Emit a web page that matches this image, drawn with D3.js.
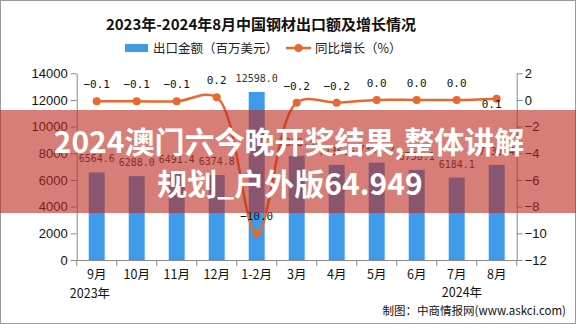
<!DOCTYPE html>
<html>
<head>
<meta charset="utf-8">
<script src="https://cdn.jsdelivr.net/npm/d3@7"></script>
<style>
  body { margin: 0; background: #fff; }
  svg { display: block; }
</style>
</head>
<body>
<div id="chart"></div>
<script>
const categories = ['9月', '10月', '11月', '12月', '1-2月', '3月', '4月', '5月', '6月', '7月', '8月'];
const exportValues = [6564.6, 6288.0, 6491.4, 6374.8, 12598.0, 7808.3, 7135.6, 7305.2, 6758.1, 6184.1, 7133.4];
const growthValues = [-0.1, -0.1, -0.1, 0.2, -10.0, -0.2, -0.2, 0.0, 0.0, 0.0, 0.1];
const leftTicks = [0, 2000, 4000, 6000, 8000, 10000, 12000, 14000];
const rightTicks = [2, 0, -2, -4, -6, -8, -10, -12];

const width = 576;
const height = 324;
const margin = { top: 73.3, right: 59.3, bottom: 64, left: 76.7 };

const svg = d3.select('#chart')
  .append('svg')
  .attr('width', width)
  .attr('height', height);

svg.append('rect')
  .attr('x', 0.5).attr('y', 0.5)
  .attr('width', width - 1).attr('height', height - 1)
  .attr('fill', '#fff')
  .attr('stroke', '#9a9a9a');

const plotW = width - margin.left - margin.right;
const plotH = height - margin.top - margin.bottom;
const y0 = margin.top + plotH;

const x = d3.scaleBand()
  .domain(categories)
  .range([margin.left, margin.left + plotW])
  .padding(0);

const yL = d3.scaleLinear().domain([0, 14000]).range([y0, margin.top]);
const yR = d3.scaleLinear().domain([-12, 2]).range([y0, margin.top]);

const axisColor = '#8a8a8a';
const tickFont = 'Liberation Sans, Arial, sans-serif';

// title
svg.append('text')
  .attr('x', 261).attr('y', 30)
  .attr('text-anchor', 'middle')
  .style('font-family', 'Noto Sans CJK SC')
  .style('font-weight', 'bold')
  .style('font-size', '15px')
  .style('fill', '#111')
  .text('2023年-2024年8月中国钢材出口额及增长情况');

// legend
svg.append('rect')
  .attr('x', 125).attr('y', 44)
  .attr('width', 23).attr('height', 8)
  .attr('fill', '#3d9be9');
svg.append('text')
  .attr('x', 153).attr('y', 53)
  .style('font-family', 'Noto Sans CJK SC')
  .style('font-size', '12.5px')
  .style('fill', '#222')
  .text('出口金额（百万美元）');
svg.append('line')
  .attr('x1', 286).attr('x2', 311).attr('y1', 48).attr('y2', 48)
  .attr('stroke', '#e8692d').attr('stroke-width', 2.5);
svg.append('circle')
  .attr('cx', 298.5).attr('cy', 48).attr('r', 4)
  .attr('fill', '#e8692d');
svg.append('text')
  .attr('x', 315).attr('y', 53)
  .style('font-family', 'Noto Sans CJK SC')
  .style('font-size', '12.5px')
  .style('fill', '#222')
  .text('同比增长（%）');

// bars
const barW = x.bandwidth() * 0.4;
svg.selectAll('.bar')
  .data(exportValues)
  .enter()
  .append('rect')
  .attr('class', 'bar')
  .attr('x', (d, i) => x(categories[i]) + (x.bandwidth() - barW) / 2)
  .attr('y', (d) => yL(d))
  .attr('width', barW)
  .attr('height', (d) => y0 - yL(d))
  .attr('fill', '#3d9be9');

svg.selectAll('.bar-label')
  .data(exportValues)
  .enter()
  .append('text')
  .attr('class', 'bar-label')
  .attr('x', (d, i) => x(categories[i]) + x.bandwidth() / 2)
  .attr('y', (d) => yL(d) - 10)
  .attr('text-anchor', 'middle')
  .style('font-family', 'DejaVu Sans Mono, monospace')
  .style('font-size', '10px')
  .style('fill', '#333')
  .text((d) => d.toFixed(1));

// axes
const gL = svg.append('g')
  .attr('transform', `translate(${margin.left},0)`)
  .call(d3.axisLeft(yL).tickValues(leftTicks).tickSize(6).tickSizeOuter(0).tickPadding(3)
    .tickFormat(d3.format('d')));
const gR = svg.append('g')
  .attr('transform', `translate(${margin.left + plotW},0)`)
  .call(d3.axisRight(yR).tickValues(rightTicks).tickSize(6).tickSizeOuter(0).tickPadding(2)
    .tickFormat((d) => (d < 0 ? '\u2212' + Math.abs(d) : d)));
const gX = svg.append('g')
  .attr('transform', `translate(0,${y0})`)
  .call(d3.axisBottom(x).tickSize(0).tickSizeOuter(0).tickPadding(10));

[gL, gR, gX].forEach((g) => {
  g.selectAll('path, line').attr('stroke', axisColor);
  g.selectAll('text')
    .style('font-family', tickFont)
    .style('font-size', '13px')
    .style('fill', '#111');
});
gX.selectAll('text').style('font-family', 'Noto Sans CJK SC').style('font-size', '12.5px');

// band boundary ticks on the x axis
svg.selectAll('.xtick')
  .data(categories.concat(['end']))
  .enter()
  .append('line')
  .attr('class', 'xtick')
  .attr('x1', (d, i) => margin.left + i * x.step())
  .attr('x2', (d, i) => margin.left + i * x.step())
  .attr('y1', y0)
  .attr('y2', y0 + 6)
  .attr('stroke', axisColor);

// year labels
svg.append('text')
  .attr('x', 90).attr('y', 298)
  .attr('text-anchor', 'middle')
  .style('font-family', 'Noto Sans CJK SC')
  .style('font-size', '12.5px')
  .style('fill', '#111')
  .text('2023年');
svg.append('text')
  .attr('x', 462).attr('y', 297)
  .attr('text-anchor', 'middle')
  .style('font-family', 'Noto Sans CJK SC')
  .style('font-size', '12.5px')
  .style('fill', '#111')
  .text('2024年');
svg.append('text')
  .attr('x', 566).attr('y', 315)
  .attr('text-anchor', 'end')
  .style('font-family', 'Noto Sans CJK SC')
  .style('font-size', '11.5px')
  .style('fill', '#111')
  .text('制图：中商情报网(www.askci.com)');

// growth line
const cx = (i) => x(categories[i]) + x.bandwidth() / 2;
const line = d3.line()
  .x((d, i) => cx(i))
  .y((d) => yR(d))
  .curve(d3.curveCatmullRom.alpha(0.5));

svg.append('path')
  .datum(growthValues)
  .attr('d', line)
  .attr('fill', 'none')
  .attr('stroke', '#e8692d')
  .attr('stroke-width', 2.5);

svg.selectAll('.pt')
  .data(growthValues)
  .enter()
  .append('circle')
  .attr('class', 'pt')
  .attr('cx', (d, i) => cx(i))
  .attr('cy', (d) => yR(d))
  .attr('r', 4)
  .attr('fill', '#e8692d');

svg.selectAll('.pt-label')
  .data(growthValues)
  .enter()
  .append('text')
  .attr('class', 'pt-label')
  .attr('x', (d, i) => cx(i) - (i === growthValues.length - 1 ? 5 : 0))
  .attr('y', (d, i) => yR(d) + (i === growthValues.length - 1 ? 9 : -13))
  .attr('text-anchor', 'middle')
  .style('font-family', 'DejaVu Sans Mono, monospace')
  .style('font-size', '11px')
  .style('fill', '#111')
  .text((d) => (d < 0 ? '\u2212' + Math.abs(d).toFixed(1) : d.toFixed(1)));

// overlay banner
svg.append('rect')
  .attr('x', 0).attr('y', 110)
  .attr('width', width).attr('height', 103)
  .attr('fill', 'rgba(190,40,30,0.6)');

const bannerLines = ['2024澳门六今晚开奖结果,整体讲解', '规划_户外版64.949'];
svg.selectAll('.banner')
  .data(bannerLines)
  .enter()
  .append('text')
  .attr('class', 'banner')
  .attr('x', (d, i) => (i === 0 ? 289 : 290))
  .attr('y', (d, i) => 153 + i * 42)
  .attr('text-anchor', 'middle')
  .style('font-family', 'Noto Sans CJK SC')
  .style('font-weight', 'bold')
  .style('font-size', '30px')
  .style('fill', '#fff')
  .text((d) => d);
</script>
</body>
</html>
